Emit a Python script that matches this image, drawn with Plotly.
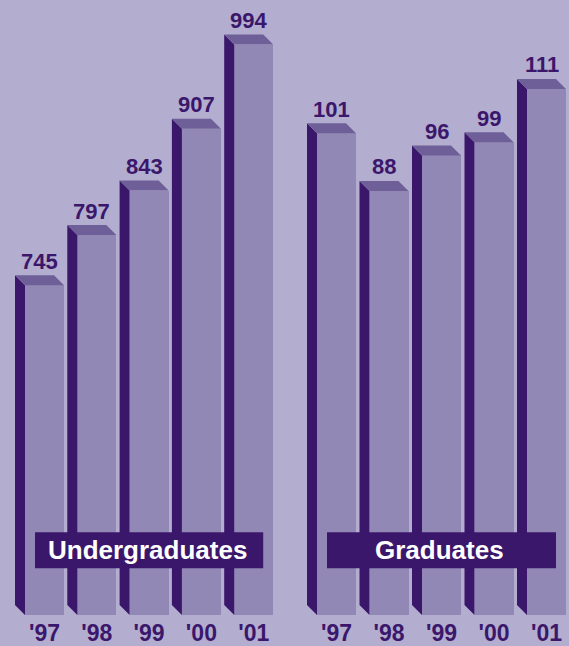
import plotly.graph_objects as go

# ---- data ----
years = ["'97", "'98", "'99", "'00", "'01"]
undergrad = [745, 797, 843, 907, 994]
graduates = [101, 88, 96, 99, 111]
group_titles = ["Undergraduates", "Graduates"]

# ---- styling ----
BG = "#b3adcf"
FRONT = "#9288b6"
SIDE = "#3b176b"
TOP = "#6f5f98"
TXT = "#3b176b"
FONT = "Liberation Sans, Arial, sans-serif"

W, H = 569, 646
MB = 29                     # bottom margin (baseline at 617 px)
PH = H - MB                 # plot height in px
DEPTH = 10                  # 3D depth offset in px
BW = 39                     # front face width (x units == px)

# axis scales (px per unit) and baselines
ug_lo, ug_s = 404.0, 0.97
gr_lo, gr_s = -7.7, 4.446
ug_hi = ug_lo + PH / ug_s
gr_hi = gr_lo + PH / gr_s

ug_x = [44.5 + 52.3 * i for i in range(len(years))]
gr_x = [336.5 + 52.5 * i for i in range(len(years))]

fig = go.Figure()


def add_group(xs, vals, lo, s, yaxis):
    d = DEPTH / s
    fig.add_trace(go.Bar(x=xs, y=[v - lo for v in vals], base=lo, width=BW,
                         marker=dict(color=FRONT, line=dict(width=0)),
                         yaxis=yaxis, hoverinfo="skip", showlegend=False))
    sx, sy, tx, ty = [], [], [], []
    for x, v in zip(xs, vals):
        xl, xr = x - BW / 2, x + BW / 2
        sx += [xl - DEPTH, xl, xl, xl - DEPTH, xl - DEPTH, None]
        sy += [v + d, v, lo, lo + d, v + d, None]
        tx += [xl - DEPTH, xr - DEPTH, xr, xl, xl - DEPTH, None]
        ty += [v + d, v + d, v, v, v + d, None]
    fig.add_trace(go.Scatter(x=sx, y=sy, fill="toself", fillcolor=SIDE, mode="lines",
                             line=dict(width=0, color=SIDE), yaxis=yaxis,
                             hoverinfo="skip", showlegend=False))
    fig.add_trace(go.Scatter(x=tx, y=ty, fill="toself", fillcolor=TOP, mode="lines",
                             line=dict(width=0, color=TOP), yaxis=yaxis,
                             hoverinfo="skip", showlegend=False))
    yref = "y" if yaxis == "y" else "y2"
    for x, v in zip(xs, vals):
        fig.add_annotation(x=x - DEPTH / 2, y=v, xref="x", yref=yref, text=f"<b>{v}</b>",
                           showarrow=False, yanchor="middle", yshift=24,
                           font=dict(family=FONT, size=22, color=TXT))


add_group(ug_x, undergrad, ug_lo, ug_s, "y")
add_group(gr_x, graduates, gr_lo, gr_s, "y2")

# group title boxes
for xs in [ug_x, gr_x]:
    fig.add_shape(type="rect", xref="x", yref="paper", x0=xs[0] - 9.5, x1=xs[-1] + 9.5,
                  y0=1 - 570 / PH, y1=1 - 534 / PH,
                  fillcolor=SIDE, line=dict(width=0), layer="above")
for xs, title in zip([ug_x, gr_x], group_titles):
    cx = (xs[0] + xs[-1]) / 2 - 2
    fig.add_annotation(x=cx, y=1 - 552 / PH, xref="x", yref="paper",
                       xanchor="center", yanchor="middle",
                       text=f"<b>{title}</b>", showarrow=False,
                       font=dict(family=FONT, size=26, color="white"))

fig.update_layout(
    width=W, height=H,
    margin=dict(l=0, r=0, t=0, b=MB),
    paper_bgcolor=BG, plot_bgcolor=BG,
    bargap=0,
    xaxis=dict(range=[0, W], showgrid=False, zeroline=False, showline=False,
               tickvals=ug_x + gr_x, ticktext=[f"<b>{y}</b>" for y in years] * 2,
               tickfont=dict(family=FONT, size=23, color=TXT), ticks="",
               ticklabelstandoff=2, fixedrange=True),
    yaxis=dict(range=[ug_lo, ug_hi], visible=False, fixedrange=True),
    yaxis2=dict(range=[gr_lo, gr_hi], visible=False, overlaying="y", fixedrange=True),
)

fig.write_html("out.html", config={"displayModeBar": False},
               post_script="document.body.style.margin='0';document.body.style.padding='0';")
